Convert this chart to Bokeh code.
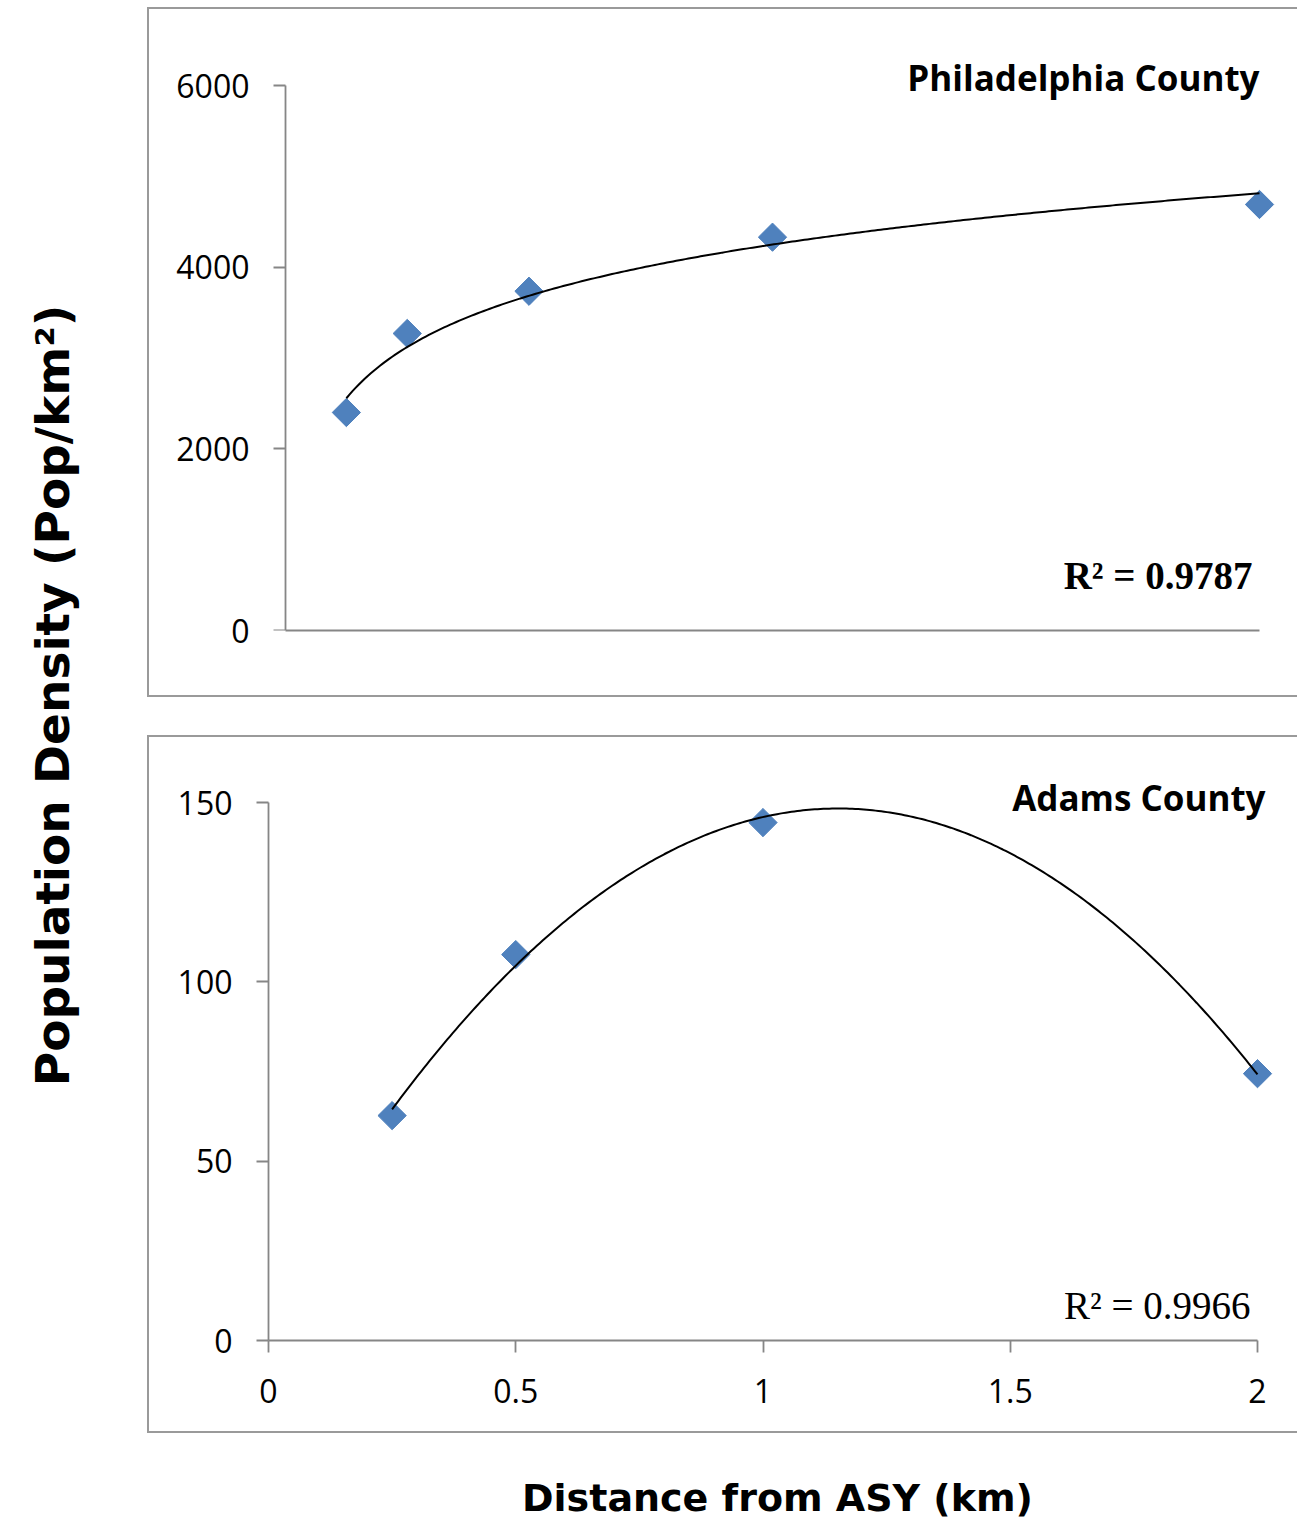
import numpy as np
from bokeh.plotting import figure
from bokeh.layouts import row, column
from bokeh.models import Label, FixedTicker, Spacer, Range1d, NumeralTickFormatter, LinearAxis
from bokeh.embed import file_html
from bokeh.resources import INLINE

# ---- data ----
phil_x = [0.125, 0.25, 0.5, 1.0, 2.0]
phil_y = [2400, 3270, 3735, 4330, 4690]
adams_x = [0.25, 0.5, 1.0, 2.0]
adams_y = [62.7, 107.6, 144.4, 74.4]
phil_yticks = [0, 2000, 4000, 6000]
adams_yticks = [0, 50, 100, 150]
adams_xticks = [0, 0.5, 1, 1.5, 2]
titles = ["Philadelphia County", "Adams County"]
r2_labels = ["R² = 0.9787", "R² = 0.9966"]
y_label = "Population Density (Pop/km²)"
x_label = "Distance from ASY (km)"

SANS = "Open Sans"
BIG = "DejaVu Sans"
SERIF = "Liberation Serif"
AXIS_COL = "#868686"
MARK_COL = "#4F81BD"
# panel frame: left, top and bottom edges (the right edge lies beyond the picture)
BOX = {"box-shadow": "inset 2px 0 0 0 #9a9a9a, inset 0 2px 0 0 #9a9a9a, inset 0 -2px 0 0 #9a9a9a"}


def style_axis(ax):
    ax.axis_line_color = AXIS_COL
    ax.axis_line_width = 1.8
    ax.major_tick_line_color = AXIS_COL
    ax.major_tick_line_width = 1.8
    ax.major_tick_out = 12
    ax.major_tick_in = 0
    ax.minor_tick_line_color = None
    ax.major_label_text_font = SANS
    ax.major_label_text_font_size = "32px"
    ax.major_label_text_color = "black"


def make_panel(height, x_rng, y_end, y_max, mb, yticks, xticks):
    p = figure(width=1150, height=height, x_range=Range1d(*x_rng), y_range=Range1d(0, y_end),
               output_backend="svg", toolbar_location=None,
               min_border_left=mb[0], min_border_top=mb[1], min_border_bottom=mb[2], min_border_right=mb[3])
    p.grid.visible = False
    p.outline_line_color = None
    p.background_fill_color = None
    p.border_fill_color = None
    p.styles = BOX
    style_axis(p.xaxis[0])
    style_axis(p.yaxis[0])
    p.yaxis.ticker = FixedTicker(ticks=yticks)
    p.yaxis.formatter = NumeralTickFormatter(format="0")
    p.yaxis.major_label_standoff = 24
    p.yaxis.bounds = (0, y_max)
    p.xaxis.ticker = FixedTicker(ticks=xticks)
    p.xaxis.formatter = NumeralTickFormatter(format="0.[0]")
    p.xaxis.major_label_standoff = 26
    p.xaxis.bounds = (0, 2)
    if not xticks:
        p.xaxis.major_tick_out = 0
    return p


def add_label(p, x, y, text, font, size, bold=True):
    p.add_layout(Label(x=x, y=y, x_units="screen", y_units="screen", text=text,
                       text_font=font, text_font_style="bold" if bold else "normal",
                       text_font_size=size, text_color="black",
                       text_align="right", text_baseline="alphabetic"))


# ---- top panel: Philadelphia (frame 268..1282 x 20..630; x=0 at 285) ----
kx_top = 487.0
x0_top = -17 / kx_top
top = make_panel(690, (x0_top, x0_top + 1014 / kx_top), 610 / (545 / 6000), 6000,
                 (121, 13, 67, 15), phil_yticks, [])
# labels only on the frame-edge axis; line and ticks drawn by an axis fixed at x = 0
top.yaxis[0].axis_line_color = None
top.yaxis[0].major_tick_line_color = None
top.yaxis[0].major_tick_out = 0
top.yaxis[0].major_label_standoff = 19
ax_line = LinearAxis(fixed_location=0, ticker=FixedTicker(ticks=phil_yticks), bounds=(0, 6000))
style_axis(ax_line)
ax_line.major_label_text_color = None
ax_line.major_label_text_font_size = "1px"
ax_line.major_label_standoff = 0
top.add_layout(ax_line, "left")

top.scatter(phil_x, phil_y, marker="square", angle=np.pi / 4, size=20,
            fill_color=MARK_COL, line_color=MARK_COL)
a, b = np.polyfit(np.log(phil_x), phil_y, 1)
xs = np.linspace(min(phil_x), max(phil_x), 300)
top.line(xs, a * np.log(xs) + b, line_color="black", line_width=2)
add_label(top, 991, 553, titles[0], SANS, "35px")
add_label(top, 984, 55, r2_labels[0], SERIF, "39px")

# ---- bottom panel: Adams (frame 268..1282 x 750..1340) ----
bot = make_panel(698, (0, 1014 / 494.5), 590 / (538 / 150), 150,
                 (121, 15, 93, 15), adams_yticks, adams_xticks)
bot.scatter(adams_x, adams_y, marker="square", angle=np.pi / 4, size=20,
            fill_color=MARK_COL, line_color=MARK_COL)
c = np.polyfit(adams_x, adams_y, 2)
xs2 = np.linspace(min(adams_x), max(adams_x), 300)
bot.line(xs2, np.polyval(c, xs2), line_color="black", line_width=2)
add_label(bot, 997, 543, titles[1], SANS, "35px")
add_label(bot, 982, 35, r2_labels[1], SERIF, "39px", bold=False)


def blank(w, h):
    f = figure(width=w, height=h, x_range=Range1d(0, 1), y_range=Range1d(0, 1),
               x_axis_type=None, y_axis_type=None, output_backend="svg",
               toolbar_location=None, min_border=0)
    f.grid.visible = False
    f.outline_line_color = None
    f.background_fill_color = None
    f.border_fill_color = None
    return f


left = blank(147, 1525)
left.add_layout(Label(x=52, y=830, x_units="screen", y_units="screen", text=y_label,
                      angle=np.pi / 2, text_font=BIG, text_font_style="bold", text_color="black",
                      text_font_size="47px", text_align="center", text_baseline="middle"))

xlab = blank(1150, 92)
xlab.add_layout(Label(x=509, y=28, x_units="screen", y_units="screen", text=x_label,
                      text_font=BIG, text_font_style="bold", text_color="black",
                      text_font_size="38px", text_align="center", text_baseline="middle"))

layout = row(left, column(Spacer(width=1150, height=7), top, Spacer(width=1150, height=38), bot, xlab))

with open("out.html", "w") as f:
    f.write(file_html(layout, INLINE))
